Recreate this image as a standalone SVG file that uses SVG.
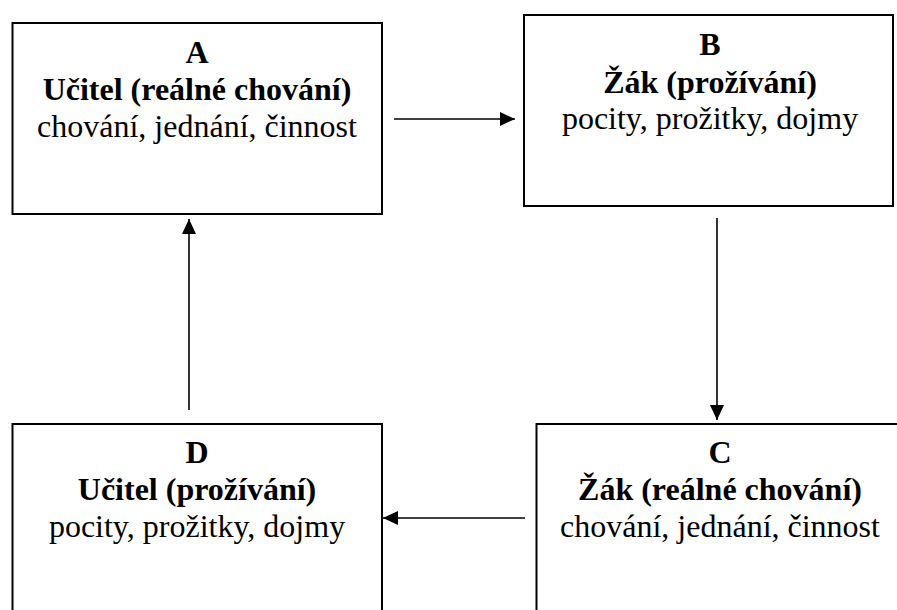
<svg xmlns="http://www.w3.org/2000/svg" width="897" height="610" viewBox="0 0 897 610">
<style>
.box{fill:#fff;stroke:#000;stroke-width:2}
.t{font-family:"Liberation Serif","Times New Roman",serif;font-size:32px;text-anchor:middle;fill:#000}
.b{font-weight:bold}
.c{stroke:#000;stroke-width:1.6;fill:none;marker-end:url(#ah)}
</style>
<defs>
<marker id="ah" markerWidth="16" markerHeight="14" refX="15" refY="7" orient="auto" markerUnits="userSpaceOnUse">
<path d="M0,0 L15,7 L0,14 Z" fill="#000"/>
</marker>
</defs>
<rect width="897" height="610" fill="#fff"/>
<g id="nodeA">
<rect class="box" x="12.5" y="23" width="369.5" height="191"/>
<text class="t b" x="197" y="63">A</text>
<text class="t b" x="197" y="100">Učitel (reálné chování)</text>
<text class="t" x="197" y="137">chování, jednání, činnost</text>
</g>
<g id="nodeB">
<rect class="box" x="524" y="15" width="369" height="191"/>
<text class="t b" x="710" y="55">B</text>
<text class="t b" x="710" y="93">Žák (prožívání)</text>
<text class="t" x="710" y="129">pocity, prožitky, dojmy</text>
</g>
<g id="nodeC">
<rect class="box" x="536.5" y="424" width="368" height="200"/>
<text class="t b" x="720" y="463">C</text>
<text class="t b" x="720" y="500">Žák (reálné chování)</text>
<text class="t" x="720" y="537">chování, jednání, činnost</text>
</g>
<g id="nodeD">
<rect class="box" x="12.5" y="424" width="369.5" height="200"/>
<text class="t b" x="197" y="463">D</text>
<text class="t b" x="197" y="500">Učitel (prožívání)</text>
<text class="t" x="197" y="537">pocity, prožitky, dojmy</text>
</g>
<g id="connectors">
<line class="c" x1="394" y1="119" x2="515" y2="119"/>
<line class="c" x1="717" y1="218" x2="717" y2="420"/>
<line class="c" x1="525" y1="518" x2="383" y2="518"/>
<line class="c" x1="189" y1="410" x2="189" y2="219"/>
</g>
</svg>
